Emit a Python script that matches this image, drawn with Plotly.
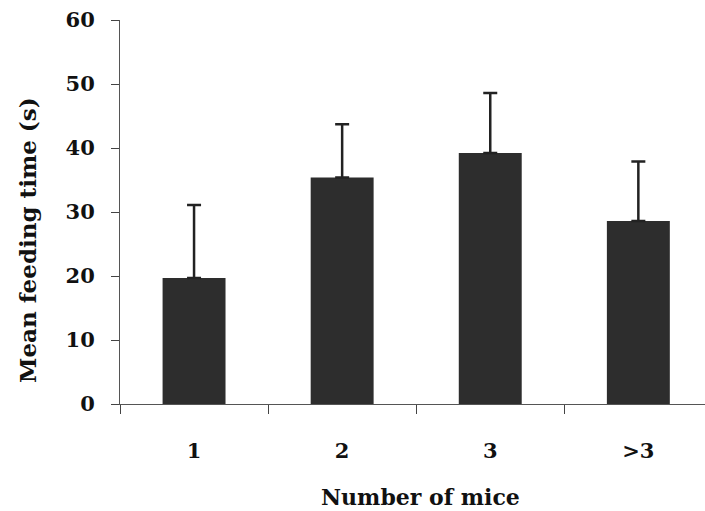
import plotly.graph_objects as go

categories = ["1", "2", "3", ">3"]
mean_time = [19.7, 35.4, 39.2, 28.6]
error_up = [11.4, 8.3, 9.4, 9.3]
y_ticks = [0, 10, 20, 30, 40, 50, 60]

font_family = "DejaVu Serif, Liberation Serif, serif"
text_color = "#111111"

fig = go.Figure()
fig.add_trace(go.Bar(
    x=categories,
    y=mean_time,
    width=0.425,
    marker=dict(color="#2d2d2d", line=dict(width=0)),
    error_y=dict(type="data", array=error_up, arrayminus=[0] * len(error_up),
                 symmetric=False, color="#222222", thickness=2.5, width=7),
))

fig.update_layout(
    width=705, height=511,
    margin=dict(l=120, r=0, t=20, b=107),
    paper_bgcolor="white", plot_bgcolor="white",
    showlegend=False,
    font=dict(family=font_family, color=text_color),
    xaxis=dict(
        type="category",
        range=[-0.5, 3.45],
        tickson="boundaries",
        tickvals=categories,
        ticktext=[f"<b>{c}</b>" for c in categories],
        ticks="outside", ticklen=9, tickcolor="#444444", tickwidth=1,
        ticklabelstandoff=28,
        showline=True, linecolor="#555555", linewidth=1,
        showgrid=False, zeroline=False,
        tickfont=dict(size=21, family=font_family, color=text_color),
    ),
    yaxis=dict(
        range=[0, 60],
        tickvals=y_ticks,
        ticktext=[f"<b>{v}</b>" for v in y_ticks],
        ticks="outside", ticklen=8, tickcolor="#444444", tickwidth=1,
        ticklabelstandoff=12,
        showline=True, linecolor="#555555", linewidth=1,
        showgrid=False, zeroline=False,
        tickfont=dict(size=21, family=font_family, color=text_color),
    ),
    annotations=[
        dict(text="<b>Number of mice</b>", xref="paper", yref="paper",
             x=(420 - 120) / 585, y=-(497 - 404) / 384, xanchor="center", yanchor="middle",
             showarrow=False, font=dict(size=22, family=font_family, color=text_color)),
        dict(text="<b>Mean feeding time (s)</b>", xref="paper", yref="paper",
             x=-(120 - 27) / 585, y=(404 - 240) / 384, xanchor="center", yanchor="middle",
             textangle=-90,
             showarrow=False, font=dict(size=23, family=font_family, color=text_color)),
    ],
)

fig.write_html(
    "out.html",
    config={"displayModeBar": False},
    post_script="document.body.style.margin='0';document.body.style.overflow='hidden';",
)
